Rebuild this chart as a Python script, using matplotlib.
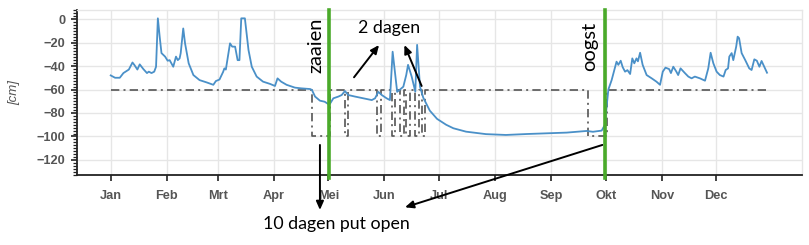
import matplotlib
matplotlib.use("Agg")
import matplotlib.pyplot as plt
from matplotlib.ticker import MultipleLocator, FixedLocator

# ---- data ----
month_labels = ["Jan", "Feb", "Mrt", "Apr", "Mei", "Jun", "Jul", "Aug", "Sep", "Okt", "Nov", "Dec"]
month_start_day = [0, 31, 59, 90, 120, 151, 181, 212, 243, 273, 304, 334]

level_day = [0, 2.4, 5, 7, 9, 10, 12, 13, 14.7, 16, 18, 20, 21, 22.5, 24, 25, 26, 27, 28, 30,
             31.4, 32.5, 34.5, 36, 37, 38, 38.6, 40, 41, 43, 45.6, 49, 53, 56.6, 58, 60, 62,
             62.7, 63.5, 65.8, 67, 68.6, 70, 71, 72, 74, 76, 77.8, 80.5, 84, 88, 90.6, 92, 94,
             97, 101.6, 105, 110, 111, 112.7, 115.4, 118, 120.6, 122.8, 125.6, 127.4, 129.2,
             131, 134.7, 139.3, 144, 145.8, 147.6, 149.5, 152.2, 154, 155.5, 156.8, 158, 159.6,
             161.4, 163, 164, 166, 168, 169, 170.6, 172.4, 176, 180, 185, 189, 196, 207, 218,
             229.5, 240.5, 251.5, 262.5, 266, 270.8, 272.6, 273.5, 274.5, 276.3, 278, 279, 280,
             281.3, 282.4, 283.7, 285, 286.5, 287.7, 288.8, 290, 290.8, 292, 293.4, 295.6, 298.4,
             301, 303, 304.5, 306, 308, 309, 310.3, 312, 313, 314.3, 316.7, 318.6, 320.4, 322.2,
             325, 327.8, 329.6, 330.9, 332.4, 334.2, 336, 338, 339.2, 340.5, 341.2, 342.5, 343.4,
             345, 345.8, 346.6, 348, 350, 352.2, 353.5, 355, 356.4, 357.8, 359, 360.5, 362]
level_cm = [-48, -50, -50, -46, -44, -43, -37, -39, -43, -38.6, -42.6, -46, -44.8, -46, -44.8,
            -40.6, 0.6, -15, -29, -32, -35.5, -35, -40.6, -32, -35, -33.5, -29, -8, -20.7, -37.7,
            -47.7, -52, -54, -56, -52.8, -51.5, -45, -42, -43, -20.7, -23.5, -23.5, -35, -35, 0.6,
            0.6, -26.4, -40.6, -49, -53.3, -55.3, -57, -50.5, -53.3, -56, -58.4, -59, -59.6,
            -60.4, -66, -69.5, -70.4, -73, -67.5, -66, -64.7, -61.3, -64.7, -66, -67.5, -69,
            -67.5, -62, -64.7, -67.5, -69, -27.8, -46, -62, -60, -57.6, -47.7, -39, -49, -61.8,
            -22, -57.6, -67, -78, -85, -90, -93, -95.9, -98, -98.7, -97.9, -97.3, -96.7, -95.3,
            -96, -95, -90, -75, -60, -52, -42, -36.3, -39, -35.5, -41, -44.8, -43.5, -46.8, -33.5,
            -37.7, -33.5, -36, -28.7, -39, -47.7, -50.5, -53.3, -56, -44.8, -41.4, -42.6, -46,
            -40.6, -44.8, -47.7, -42, -46, -49, -50.5, -49, -50.5, -52.5, -42, -28.7, -37.7,
            -44.8, -47.7, -49, -43.4, -42, -32, -29, -35, -23.5, -15, -16.3, -29, -35, -42,
            -43.4, -34.3, -35.5, -40.6, -35.7, -40.6, -45.7]

# drain (put) level, step-wise
drain_day = [0, 111, 121, 129, 131, 147, 149, 155, 157, 159.5, 161.5, 163, 165, 168, 170,
             171.5, 173.5, 263.5, 273.5, 362]
drain_cm = [-60, -100, -60, -100, -60, -100, -60, -100, -60, -100, -60, -100, -60, -100, -60,
            -100, -60, -100, -60, -60]

zaaien_day = 120.5
oogst_day = 272.5

# ---- figure ----
W, H = 809, 245
fig = plt.figure(figsize=(W / 100, H / 100), dpi=100)
ax = fig.add_axes([77 / W, 1 - 175 / H, (802 - 77) / W, (175 - 10) / H])

ax.set_xlim(-18.6, 381.3)
ax.set_ylim(-132.8, 7.7)

grid_c = "#e6e6e6"
ax.xaxis.set_major_locator(FixedLocator(month_start_day))
ax.set_xticklabels(month_labels)
ax.yaxis.set_major_locator(MultipleLocator(20))
ax.yaxis.set_minor_locator(MultipleLocator(2.5))
ax.grid(True, which="major", color=grid_c, lw=1.0, zorder=0)
ax.set_axisbelow(True)

for s in ["top", "right"]:
    ax.spines[s].set_color(grid_c)
    ax.spines[s].set_linewidth(1.0)
for s in ["left", "bottom"]:
    ax.spines[s].set_color("#222222")
    ax.spines[s].set_linewidth(1.3)

tick_font = dict(family="Liberation Sans", weight="bold", size=9.2)
ax.tick_params(axis="both", which="major", length=4.5, width=1.2, color="#222222",
               labelcolor="#555555", pad=4)
ax.tick_params(axis="y", which="minor", length=2.8, width=0.9, color="#222222")
for lab in ax.get_xticklabels() + ax.get_yticklabels():
    lab.set_fontproperties(matplotlib.font_manager.FontProperties(**tick_font))
ax.tick_params(axis="x", pad=6.5)

ax.set_ylabel("[cm]", fontsize=9.5, style="italic", color="#555555",
              family="Liberation Sans", labelpad=12)

ax.plot(drain_day, drain_cm, drawstyle="steps-post", color="#555555", lw=1.2,
        ls=(0, (5, 2.5, 1.2, 2.5)), zorder=2)
ax.plot(level_day, level_cm, color="#4a90c8", lw=1.3, zorder=3)

ax.axvline(zaaien_day, ymin=-0.02, ymax=1.0, color="#4aaa2a", lw=2.6, zorder=4, clip_on=False)
ax.axvline(oogst_day, ymin=-0.02, ymax=1.0, color="#4aaa2a", lw=2.6, zorder=4, clip_on=False)

ann_font = "Lato"
ax.text(113.2, -22, "zaaien", rotation=90, ha="center", va="center", fontsize=14.5,
        family=ann_font, color="black", zorder=5)
ax.text(264.4, -23, "oogst", rotation=90, ha="center", va="center", fontsize=14.5,
        family=ann_font, color="black", zorder=5)
ax.text(153.8, -7.7, "2 dagen", ha="center", va="center", fontsize=12.8,
        family=ann_font, color="black", zorder=5)
ax.text(124.5, -174.5, "10 dagen put open", ha="center", va="center", fontsize=12.8,
        family=ann_font, color="black", zorder=5, clip_on=False)

arrow = dict(arrowstyle="-|>,head_length=0.5,head_width=0.22", color="black", lw=1.4,
             shrinkA=0, shrinkB=0)
ax.annotate("", xy=(148, -22.1), xytext=(134.2, -49.6), arrowprops=arrow, annotation_clip=False)
ax.annotate("", xy=(162, -22.1), xytext=(171.5, -57), arrowprops=arrow, annotation_clip=False)
ax.annotate("", xy=(115.4, -162.6), xytext=(115.4, -107.2), arrowprops=arrow, annotation_clip=False)
ax.annotate("", xy=(162.3, -160.3), xytext=(271.2, -107.2), arrowprops=arrow, annotation_clip=False)

fig.savefig("out.png", dpi=100)
